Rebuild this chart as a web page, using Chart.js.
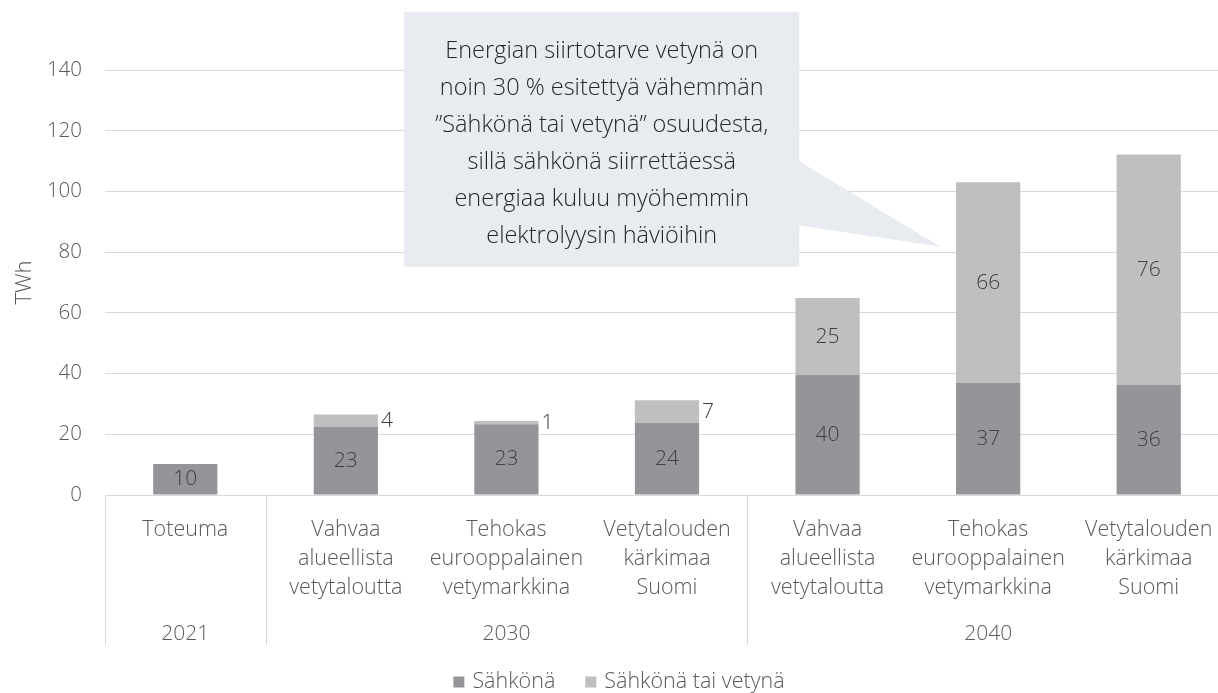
<!DOCTYPE html>
<html>
<head>
<meta charset="utf-8">
<script src="https://cdn.jsdelivr.net/npm/chart.js@4/dist/chart.umd.min.js"></script>
<style>
  body { margin: 0; overflow: hidden; background: #fff; }
</style>
</head>
<body>
<canvas id="myChart" width="1229" height="693"></canvas>
<script>
'use strict';
// data
let categories = [
    ['Toteuma'],
    ['Vahvaa', 'alueellista', 'vetytaloutta'],
    ['Tehokas', 'eurooppalainen', 'vetymarkkina'],
    ['Vetytalouden', 'kärkimaa', 'Suomi'],
    ['Vahvaa', 'alueellista', 'vetytaloutta'],
    ['Tehokas', 'eurooppalainen', 'vetymarkkina'],
    ['Vetytalouden', 'kärkimaa', 'Suomi']
];
let years = ['2021', '2030', '2040'];
let yearFirst = [0, 1, 4];
let yearLast = [0, 3, 6];
let sahkona = [10.2, 22.5, 23.3, 23.8, 39.5, 36.9, 36.2];
let sahkonaTaiVetyna = [null, 4.0, 1.1, 7.4, 25.4, 66.1, 76.0];
let seriesNames = ['Sähkönä', 'Sähkönä tai vetynä'];
let yMax = 140;
let yStep = 20;
let noteLines = [
    'Energian siirtotarve vetynä on',
    'noin 30 % esitettyä vähemmän',
    '”Sähkönä tai vetynä” osuudesta,',
    'sillä sähkönä siirrettäessä',
    'energiaa kuluu myöhemmin',
    'elektrolyysin häviöihin'
];

const darkGrey = '#949599';
const lightGrey = '#bebfc1';
const textGrey = '#595959';
const font = '"Open Sans", "Segoe UI", sans-serif';

// callout placement in axis units (category index / TWh)
const note = { left: 1.363, right: 3.824, top: 159.2, bottom: 75.2,
    baseTop: 110.1, baseBottom: 88.9, tipX: 4.703, tipY: 81.8 };

let extras = {
    id: 'extras',
    beforeDatasetsDraw(chart) {
        let ctx = chart.ctx;
        let x = chart.scales.x, y = chart.scales.y;
        let l = x.getPixelForValue(note.left), r = x.getPixelForValue(note.right);
        let t = y.getPixelForValue(note.top), b = y.getPixelForValue(note.bottom);
        ctx.save();
        ctx.fillStyle = '#e8ecf0';
        ctx.fillRect(l, t, r - l, b - t);
        ctx.beginPath();
        ctx.moveTo(r - 1, y.getPixelForValue(note.baseTop));
        ctx.lineTo(x.getPixelForValue(note.tipX), y.getPixelForValue(note.tipY));
        ctx.lineTo(r - 1, y.getPixelForValue(note.baseBottom));
        ctx.closePath();
        ctx.fill();
        ctx.fillStyle = '#262626';
        ctx.font = '300 23.5px ' + font;
        ctx.textAlign = 'center';
        ctx.textBaseline = 'middle';
        noteLines.forEach((line, i) => {
            ctx.fillText(line, (l + r) / 2, t + 40 + i * 37);
        });
        ctx.restore();
    },
    afterDatasetsDraw(chart) {
        let ctx = chart.ctx;
        ctx.save();
        ctx.font = '300 21px ' + font;
        ctx.fillStyle = '#404040';
        ctx.textBaseline = 'middle';
        chart.data.datasets.forEach((ds, d) => {
            let meta = chart.getDatasetMeta(d);
            meta.data.forEach((bar, i) => {
                let v = ds.data[i];
                if (!v) return;
                let h = bar.base - bar.y;
                let mid = (bar.y + bar.base) / 2;
                let txt = String(Math.round(v));
                if (h > 24) {
                    ctx.textAlign = 'center';
                    ctx.fillText(txt, bar.x, mid);
                } else {
                    ctx.textAlign = 'left';
                    ctx.fillText(txt, bar.x + bar.width / 2 + 3, mid);
                }
            });
        });
        ctx.restore();
    },
    afterDraw(chart) {
        let ctx = chart.ctx;
        let x = chart.scales.x;
        let area = chart.chartArea;
        ctx.save();
        // group separators under the axis
        ctx.strokeStyle = '#d9d9d9';
        ctx.lineWidth = 1;
        let seps = [area.left];
        yearFirst.forEach((f) => {
            if (f > 0) seps.push(Math.round((x.getPixelForValue(f - 1) + x.getPixelForValue(f)) / 2));
        });
        seps.forEach((sx) => {
            ctx.beginPath();
            ctx.moveTo(sx + 0.5, area.bottom);
            ctx.lineTo(sx + 0.5, x.bottom);
            ctx.stroke();
        });
        // year labels
        ctx.font = '300 21px ' + font;
        ctx.fillStyle = textGrey;
        ctx.textAlign = 'center';
        ctx.textBaseline = 'middle';
        years.forEach((yr, i) => {
            let cx = (x.getPixelForValue(yearFirst[i]) + x.getPixelForValue(yearLast[i])) / 2;
            ctx.fillText(yr, cx, x.bottom - 11);
        });
        // legend
        ctx.font = '300 21.5px ' + font;
        let box = 11, gap = 8, itemGap = 30;
        let widths = seriesNames.map((n) => ctx.measureText(n).width);
        let total = widths.reduce((a, w) => a + w + box + gap, 0) + itemGap * (seriesNames.length - 1);
        let lx = 619 - total / 2;
        let ly = 682;
        ctx.textAlign = 'left';
        seriesNames.forEach((n, i) => {
            ctx.fillStyle = chart.data.datasets[i].backgroundColor;
            ctx.fillRect(lx, ly - box / 2, box, box);
            ctx.fillStyle = textGrey;
            ctx.fillText(n, lx + box + gap, ly);
            lx += box + gap + widths[i] + itemGap;
        });
        ctx.restore();
    }
};

let ctx = document.getElementById('myChart').getContext('2d');
let chart = new Chart(ctx, {
    type: 'bar',
    data: {
        labels: categories,
        datasets: [
            {
                label: seriesNames[0],
                backgroundColor: darkGrey,
                data: sahkona
            },
            {
                label: seriesNames[1],
                backgroundColor: lightGrey,
                data: sahkonaTaiVetyna
            }
        ]
    },
    options: {
        responsive: false,
        animation: false,
        layout: { padding: { top: 70, bottom: 48, left: 0, right: 0 } },
        datasets: { bar: { barPercentage: 0.4, categoryPercentage: 1.0 } },
        plugins: {
            legend: { display: false },
            tooltip: { enabled: false }
        },
        scales: {
            x: {
                stacked: true,
                grid: { display: false },
                border: { display: false },
                ticks: {
                    color: textGrey,
                    font: { family: font, size: 21.5, weight: '300', lineHeight: 1.35 },
                    padding: 12,
                    maxRotation: 0,
                    autoSkip: false
                },
                afterFit(scale) { scale.height = 150; }
            },
            y: {
                stacked: true,
                min: 0,
                max: yMax,
                grid: { color: '#d9d9d9', lineWidth: 1, drawTicks: false },
                border: { display: false },
                ticks: {
                    stepSize: yStep,
                    color: textGrey,
                    padding: 23,
                    font: { family: font, size: 20.5, weight: '300' }
                },
                title: {
                    display: true,
                    text: 'TWh',
                    color: textGrey,
                    font: { family: font, size: 22, weight: '300' },
                    padding: { top: 12, bottom: 0 }
                },
                afterFit(scale) { scale.width = 105; }
            }
        }
    },
    plugins: [extras]
});
</script>
</body>
</html>
